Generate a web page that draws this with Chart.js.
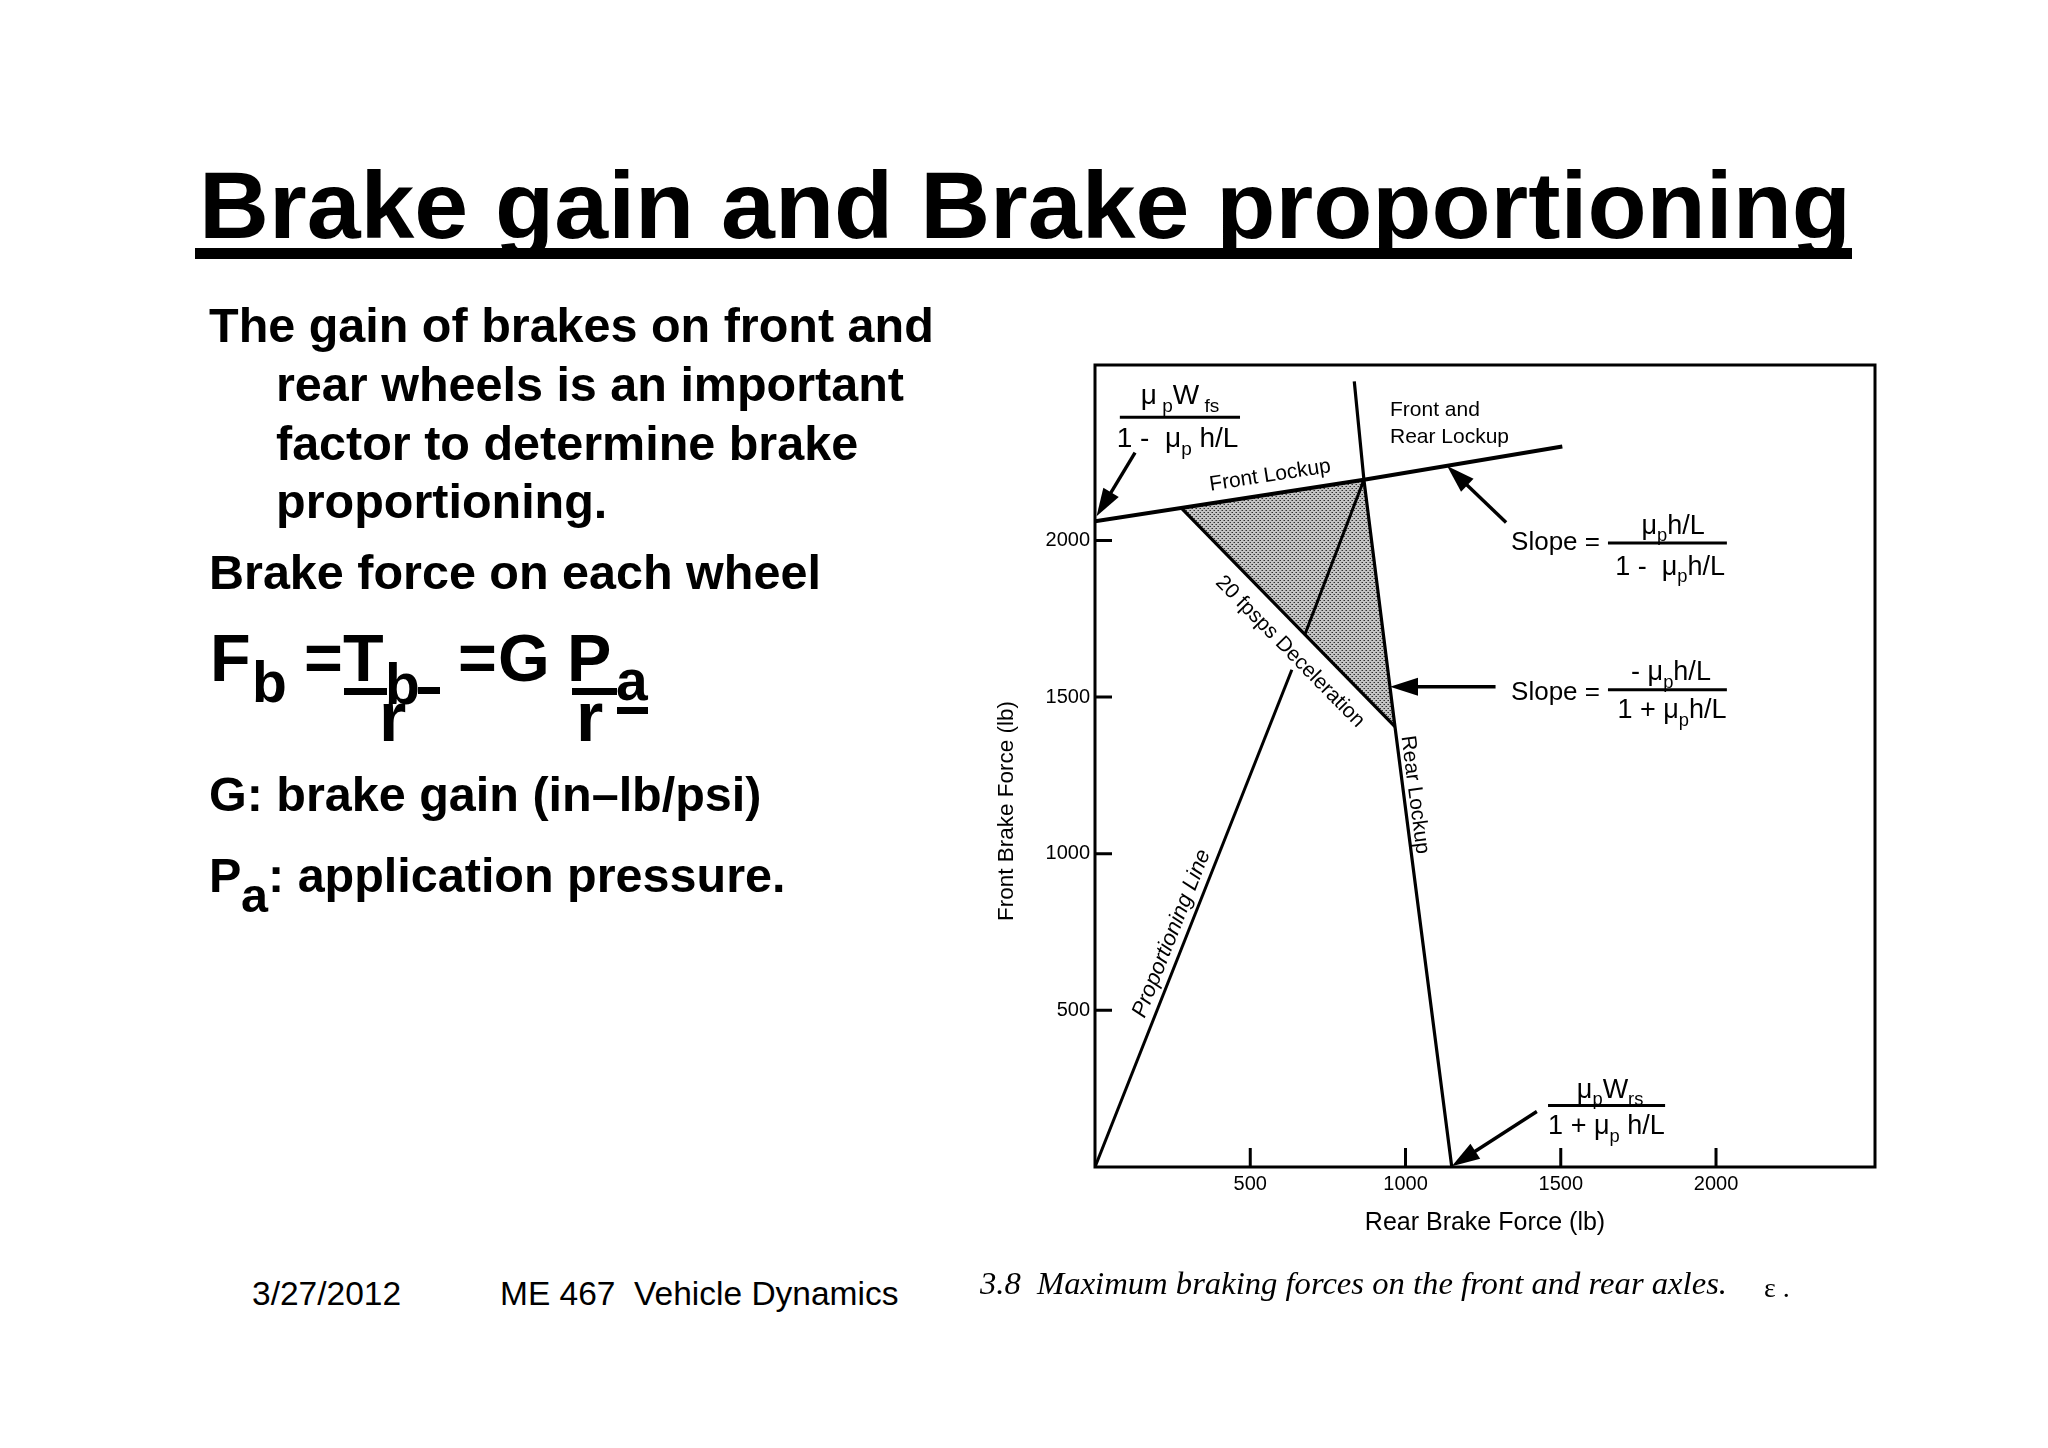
<!DOCTYPE html>
<html><head><meta charset="utf-8">
<script src="https://cdn.jsdelivr.net/npm/chart.js@4.4.1/dist/chart.umd.min.js"></script>
<style>
html,body{margin:0;padding:0;background:#fff;}
#page{position:relative;width:2048px;height:1448px;overflow:hidden;background:#fff;color:#000;font-family:'Liberation Sans',Arial,Helvetica,sans-serif;}
.t{position:absolute;white-space:pre;line-height:1;color:#000;}
.bar{position:absolute;background:#000;}
#chartWrap{position:absolute;left:940px;top:340px;width:960px;height:930px;}
</style></head>
<body><div id="page"><div id="chartWrap"><canvas id="c" width="960" height="930" style="width:960px;height:930px"></canvas></div></div>
<script>
// ---------------- data ----------------
const xTicks = [500, 1000, 1500, 2000];
const yTicks = [500, 1000, 1500, 2000];
const frontLockupX = [0, 866, 1505];
const frontLockupY = [2061, 2194, 2300];
const rearLockupX = [835, 866, 966, 1149];
const rearLockupY = [2508, 2194, 1406, 0];
const decelX = [279, 966];
const decelY = [2102, 1406];
const propLowerX = [0, 634];
const propLowerY = [0, 1587];
const propUpperX = [676, 866];
const propUpperY = [1700, 2194];
const shadeLeftX = [279, 866, 676];
const shadeLeftY = [2102, 2194, 1700];
const shadeRightX = [676, 866, 966];
const shadeRightY = [1700, 2194, 1406];

// ---------------- slide text ----------------
const page = document.getElementById('page');
const SANS = "'Liberation Sans',Arial,Helvetica,sans-serif";
const SERIF = "'Liberation Serif','Times New Roman',serif";
function T(text, x, base, size, o = {}) {
  const d = document.createElement('div');
  d.className = 't';
  d.textContent = text;
  const asc = o.serif ? 0.8375 : 0.8465;
  d.style.left = x + 'px';
  d.style.top = (base - asc * size) + 'px';
  d.style.fontSize = size + 'px';
  d.style.fontFamily = o.serif ? SERIF : SANS;
  d.style.fontWeight = o.bold ? 'bold' : 'normal';
  d.style.fontStyle = o.italic ? 'italic' : 'normal';
  page.appendChild(d);
  if (o.fitWidth) {
    const w = d.getBoundingClientRect().width;
    d.style.transformOrigin = '0 0';
    d.style.transform = 'scaleX(' + (o.fitWidth / w) + ')';
  }
  return d;
}
function B(x0, y0, x1, y1) {
  const d = document.createElement('div');
  d.className = 'bar';
  d.style.left = x0 + 'px'; d.style.top = y0 + 'px';
  d.style.width = (x1 - x0) + 'px'; d.style.height = (y1 - y0) + 'px';
  page.appendChild(d);
}
T('Brake gain and Brake proportioning', 199, 238, 95, {bold: true, fitWidth: 1652});
B(195, 248, 1852, 259);

T('The gain of brakes on front and', 209, 342, 48.5, {bold: true});
T('rear wheels is an important', 276, 401, 48.5, {bold: true});
T('factor to determine brake', 276, 460, 48.5, {bold: true});
T('proportioning.', 276, 518, 48.5, {bold: true});
T('Brake force on each wheel', 209, 589, 48.5, {bold: true});

// formula  F_b = T_b / r = G P_a / r
T('F', 210, 681, 66.5, {bold: true});
T('b', 252, 702, 57, {bold: true});
T('=', 304, 681, 66.5, {bold: true});
T('T', 343, 681, 66.5, {bold: true});
B(344, 688, 387, 695);
T('b', 385, 704, 57, {bold: true});
B(418, 687, 440, 694);
T('=', 458, 681, 66.5, {bold: true});
T('G', 498, 681, 66.5, {bold: true});
T('P', 567, 681, 66.5, {bold: true});
B(572, 688, 617, 695);
T('a', 616, 700, 57, {bold: true});
B(617, 707, 648, 714);
T('r', 379, 741, 70, {bold: true});
T('r', 576, 741, 70, {bold: true});

T('G: brake gain (in\u2013lb/psi)', 209, 811, 48.5, {bold: true});
T('P', 209, 892, 48.5, {bold: true});
T('a', 241, 912, 48.5, {bold: true});
T(': application pressure.', 268, 892, 48.5, {bold: true});

T('3/27/2012', 252, 1305, 33.5);
T('ME 467  Vehicle Dynamics', 500, 1305, 33.5);
T('3.8  Maximum braking forces on the front and rear axles.', 980, 1294, 31, {serif: true, italic: true, fitWidth: 747});
T('\u025b .', 1764, 1297, 28, {serif: true});

// ---------------- chart ----------------
function pts(xs, ys) { return xs.map((x, i) => ({x: x, y: ys[i]})); }
function lineDs(label, xs, ys, w) {
  return {label: label, data: pts(xs, ys), showLine: true, borderColor: '#000', backgroundColor: '#000',
          borderWidth: w, pointRadius: 0, pointHoverRadius: 0, fill: false, tension: 0};
}

const ANN = {
  texts: [
    {t: 'Front and', x: 950, y: 2415, size: 21, align: 'left'},
    {t: 'Rear Lockup', x: 950, y: 2330, size: 21, align: 'left'},
    {t: 'Front Lockup', x: 564, y: 2207, rot: -8.8, size: 21},
    {t: '20 fpsps Deceleration', x: 628, y: 1645, rot: 45.6, size: 21},
    {t: 'Rear Lockup', x: 1030, y: 1188, rot: 82.6, size: 21},
    {t: 'Proportioning Line', x: 247, y: 745, rot: -68.4, size: 22, italic: true},
    {t: 'Slope =', x: 1340, y: 1992, size: 26, align: 'left'},
    {t: 'Slope =', x: 1340, y: 1514, size: 26, align: 'left'}
  ],
  fractions: [
    {num: [['\u03bc', 'n'], [' p', 's'], ['W', 'n'], [' fs', 's']], numX: 274, numY: 2468,
     den: [['1 -  ', 'n'], ['\u03bc', 'n'], ['p', 's'], [' h/L', 'n']], denX: 266, denY: 2330,
     bx0: 80, bx1: 467, by: 2393, size: 28},
    {num: [['\u03bc', 'n'], ['p', 's'], ['h/L', 'n']], numX: 1862, numY: 2052,
     den: [['1 -  ', 'n'], ['\u03bc', 'n'], ['p', 's'], ['h/L', 'n']], denX: 1852, denY: 1921,
     bx0: 1652, bx1: 2035, by: 1992, size: 27},
    {num: [['- ', 'n'], ['\u03bc', 'n'], ['p', 's'], ['h/L', 'n']], numX: 1855, numY: 1584,
     den: [['1 + ', 'n'], ['\u03bc', 'n'], ['p', 's'], ['h/L', 'n']], denX: 1858, denY: 1463,
     bx0: 1652, bx1: 2035, by: 1523, size: 27},
    {num: [['\u03bc', 'n'], ['p', 's'], ['W', 'n'], ['rs', 's']], numX: 1659, numY: 252,
     den: [['1 + ', 'n'], ['\u03bc', 'n'], ['p', 's'], [' h/L', 'n']], denX: 1647, denY: 136,
     bx0: 1459, bx1: 1836, by: 196, size: 27}
  ],
  arrows: [
    {x0: 129, y0: 2280, x1: 5, y1: 2077},
    {x0: 1324, y0: 2057, x1: 1134, y1: 2238},
    {x0: 1290, y0: 1533, x1: 950, y1: 1533},
    {x0: 1423, y0: 177, x1: 1149, y1: 2}
  ]
};

function makePattern(ctx) {
  const p = document.createElement('canvas');
  p.width = 4; p.height = 4;
  const g = p.getContext('2d');
  g.fillStyle = '#c4c4c4'; g.fillRect(0, 0, 4, 4);
  g.fillStyle = '#303030';
  g.fillRect(0, 0, 1, 1); g.fillRect(2, 2, 1, 1);
  g.fillStyle = '#7a7a7a';
  g.fillRect(1, 2, 1, 1); g.fillRect(3, 0, 1, 1);
  return ctx.createPattern(p, 'repeat');
}

const shadePlugin = {
  id: 'shade',
  beforeDatasetsDraw(chart) {
    const {ctx, scales: {x, y}} = chart;
    const pat = makePattern(ctx);
    ctx.save();
    [[shadeLeftX, shadeLeftY], [shadeRightX, shadeRightY]].forEach(([xs, ys]) => {
      ctx.beginPath();
      xs.forEach((v, i) => {
        const px = x.getPixelForValue(v), py = y.getPixelForValue(ys[i]);
        if (i === 0) ctx.moveTo(px, py); else ctx.lineTo(px, py);
      });
      ctx.closePath();
      ctx.fillStyle = pat;
      ctx.fill();
    });
    ctx.restore();
  }
};

const framePlugin = {
  id: 'frame',
  afterDatasetsDraw(chart) {
    const {ctx, chartArea: a, scales: {x, y}} = chart;
    ctx.save();
    ctx.strokeStyle = '#000';
    ctx.lineWidth = 3;
    ctx.strokeRect(a.left, a.top, a.right - a.left, a.bottom - a.top);
    ctx.beginPath();
    y.ticks.forEach(t => { const py = y.getPixelForValue(t.value); ctx.moveTo(a.left, py); ctx.lineTo(a.left + 17, py); });
    x.ticks.forEach(t => { const px = x.getPixelForValue(t.value); ctx.moveTo(px, a.bottom); ctx.lineTo(px, a.bottom - 19); });
    ctx.stroke();
    ctx.restore();
  }
};

function subSize(size) { return size * 0.68; }
function richWidth(ctx, parts, size) {
  let w = 0;
  parts.forEach(([t, k]) => { ctx.font = (k === 's' ? subSize(size) : size) + 'px ' + SANS; w += ctx.measureText(t).width; });
  return w;
}
function drawRich(ctx, parts, cx, cy, size) {
  let px = cx - richWidth(ctx, parts, size) / 2;
  const base = cy + size * 0.36;
  ctx.textAlign = 'left';
  ctx.textBaseline = 'alphabetic';
  parts.forEach(([t, k]) => {
    ctx.font = (k === 's' ? subSize(size) : size) + 'px ' + SANS;
    ctx.fillText(t, px, k === 's' ? base + size * 0.28 : base);
    px += ctx.measureText(t).width;
  });
}
function drawArrow(ctx, x0, y0, x1, y1) {
  const ang = Math.atan2(y1 - y0, x1 - x0);
  const L = 28, W = 9;
  const c = Math.cos(ang), s = Math.sin(ang);
  ctx.lineWidth = 3.4;
  ctx.beginPath();
  ctx.moveTo(x0, y0);
  ctx.lineTo(x1 - L * 0.7 * c, y1 - L * 0.7 * s);
  ctx.stroke();
  ctx.beginPath();
  ctx.moveTo(x1, y1);
  ctx.lineTo(x1 - L * c + W * s, y1 - L * s - W * c);
  ctx.lineTo(x1 - L * c - W * s, y1 - L * s + W * c);
  ctx.closePath();
  ctx.fill();
}

const annotPlugin = {
  id: 'annot',
  afterDraw(chart) {
    const {ctx, chartArea: a, scales: {x, y}} = chart;
    ctx.save();
    ctx.fillStyle = '#000';
    ctx.strokeStyle = '#000';
    ANN.texts.forEach(o => {
      const px = x.getPixelForValue(o.x), py = y.getPixelForValue(o.y);
      ctx.save();
      ctx.translate(px, py);
      if (o.rot) ctx.rotate(o.rot * Math.PI / 180);
      ctx.font = (o.italic ? 'italic ' : '') + o.size + 'px ' + SANS;
      ctx.textAlign = o.align || 'center';
      ctx.textBaseline = 'middle';
      ctx.fillText(o.t, 0, 0);
      ctx.restore();
    });
    ANN.fractions.forEach(f => {
      drawRich(ctx, f.num, x.getPixelForValue(f.numX), y.getPixelForValue(f.numY), f.size);
      drawRich(ctx, f.den, x.getPixelForValue(f.denX), y.getPixelForValue(f.denY), f.size);
      const by = y.getPixelForValue(f.by);
      ctx.lineWidth = 3;
      ctx.beginPath();
      ctx.moveTo(x.getPixelForValue(f.bx0), by);
      ctx.lineTo(x.getPixelForValue(f.bx1), by);
      ctx.stroke();
    });
    ANN.arrows.forEach(r => {
      drawArrow(ctx, x.getPixelForValue(r.x0), y.getPixelForValue(r.y0), x.getPixelForValue(r.x1), y.getPixelForValue(r.y1));
    });
    // y axis title
    ctx.save();
    ctx.translate(a.left - 88, (a.top + a.bottom) / 2 + 45);
    ctx.rotate(-Math.PI / 2);
    ctx.font = '22.5px ' + SANS;
    ctx.textAlign = 'center';
    ctx.textBaseline = 'middle';
    ctx.fillText('Front Brake Force (lb)', 0, 0);
    ctx.restore();
    ctx.restore();
  }
};

Chart.defaults.font.family = SANS;
Chart.defaults.color = '#000';

new Chart(document.getElementById('c'), {
  type: 'scatter',
  data: {
    datasets: [
      lineDs('Front Lockup', frontLockupX, frontLockupY, 4),
      lineDs('Rear Lockup', rearLockupX, rearLockupY, 3.2),
      lineDs('20 fpsps Deceleration', decelX, decelY, 3.2),
      lineDs('Proportioning Line', propLowerX, propLowerY, 3),
      lineDs('Proportioning Line (upper)', propUpperX, propUpperY, 3)
    ]
  },
  options: {
    responsive: false,
    animation: false,
    devicePixelRatio: 1,
    layout: {padding: {left: 0, top: 25, right: 25, bottom: 0}},
    plugins: {legend: {display: false}, tooltip: {enabled: false}},
    scales: {
      x: {
        type: 'linear', min: 0, max: 2512,
        afterBuildTicks: s => { s.ticks = xTicks.map(v => ({value: v})); },
        afterFit: s => { s.height = 103; },
        grid: {display: false, drawTicks: false},
        border: {display: false},
        ticks: {color: '#000', font: {size: 20}, padding: 5, maxRotation: 0, autoSkip: false, callback: v => String(v)},
        title: {display: true, text: 'Rear Brake Force (lb)', color: '#000', font: {size: 25}, padding: {top: 0, bottom: 32}}
      },
      y: {
        type: 'linear', min: 0, max: 2560,
        afterBuildTicks: s => { s.ticks = yTicks.map(v => ({value: v})); },
        afterFit: s => { s.width = 155; },
        grid: {display: false, drawTicks: false},
        border: {display: false},
        ticks: {color: '#000', font: {size: 20}, padding: 5, autoSkip: false, callback: v => String(v)},
        title: {display: false}
      }
    }
  },
  plugins: [shadePlugin, framePlugin, annotPlugin]
});
</script>
</body></html>
